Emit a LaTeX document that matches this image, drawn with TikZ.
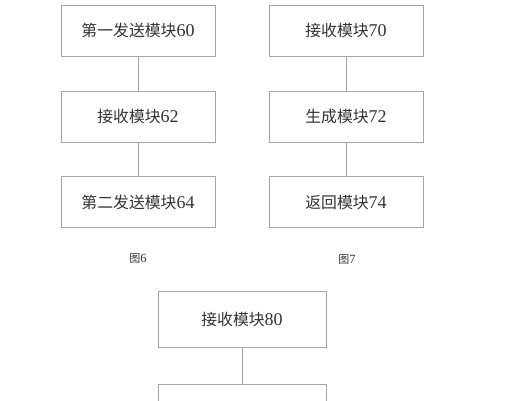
\documentclass[tikz,border=0pt]{standalone}
\usepackage{fontspec}
\setmainfont{Liberation Serif}
\newfontfamily\cjk{Noto Sans CJK SC}[Scale=0.88]
\begin{document}
\begin{tikzpicture}[x=1pt,y=-1pt,
  modbox/.style={draw=black!35,line width=0.8pt,minimum width=154pt,minimum height=51pt,inner sep=0pt,font=\fontsize{18}{21}\selectfont,text=black!80},
  link/.style={draw=black!35,line width=0.8pt},
  figlabel/.style={font=\fontsize{12.5}{15}\selectfont,text=black!80}]
\useasboundingbox (0,0) rectangle (517,400);
\clip (0,0) rectangle (517,400);
\node[modbox] (m60) at (138,30.5) {{\cjk 第一发送模块}60};
\node[modbox] (m62) at (138,116.5) {{\cjk 接收模块}62};
\node[modbox] (m64) at (138,202) {{\cjk 第二发送模块}64};
\node[modbox] (m70) at (346,30.5) {{\cjk 接收模块}70};
\node[modbox] (m72) at (346,116.5) {{\cjk 生成模块}72};
\node[modbox] (m74) at (346,202) {{\cjk 返回模块}74};
\node[figlabel] (f6) at (138,259) {{\cjk 图}6};
\node[figlabel] (f7) at (347,260) {{\cjk 图}7};
\node[modbox,minimum width=168pt,minimum height=56pt] (m80) at (242,319) {{\cjk 接收模块}80};
\node[modbox,minimum width=168pt,minimum height=56pt] (m82) at (242,412) {};
\draw[link] (m60) -- (m62);
\draw[link] (m62) -- (m64);
\draw[link] (m70) -- (m72);
\draw[link] (m72) -- (m74);
\draw[link] (m80) -- (m82);
\end{tikzpicture}
\end{document}
